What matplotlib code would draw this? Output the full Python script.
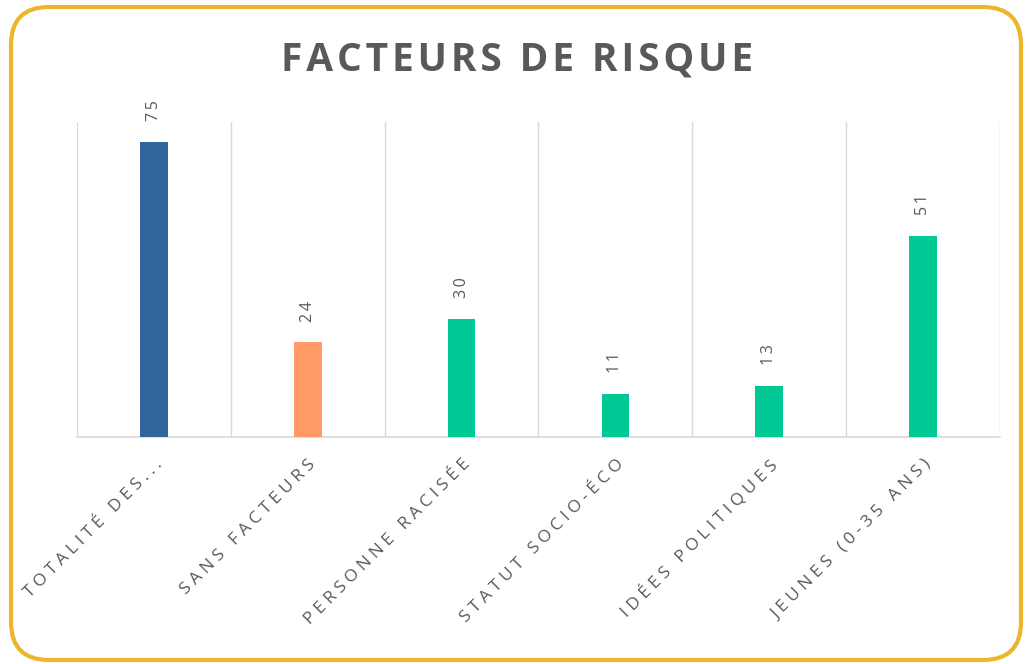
import matplotlib
matplotlib.use("Agg")
import matplotlib.pyplot as plt
from matplotlib.patches import FancyBboxPatch

# data
categories = ["TOTALITÉ DES...", "SANS FACTEURS", "PERSONNE RACISÉE",
              "STATUT SOCIO-ÉCO", "IDÉES POLITIQUES", "JEUNES (0-35 ANS)"]
values = [75, 24, 30, 11, 13, 51]
colors = ["#31669A", "#FF9966", "#00C996", "#00C996", "#00C996", "#00C996"]

TEXT = "#595959"
GRID = "#D9D9D9"
FONT = ["Open Sans", "DejaVu Sans"]


def spaced(s, sep="\u2005"):
    # Excel-style letter spacing
    return sep.join(s)


fig = plt.figure(figsize=(10.25, 6.64), dpi=100)
ax = fig.add_axes([0.0751, 0.3419, 0.9005, 0.4744])

x = range(len(categories))
ax.bar(x, values, width=0.18, color=colors, zorder=3)

for i, v in zip(x, values):
    ax.annotate(spaced(str(v), "\u2009"), (i, v), xytext=(0, 15),
                textcoords="offset points", rotation=90, ha="center",
                va="bottom", fontsize=11.5, color=TEXT, family=FONT)

for b in range(len(categories) + 1):
    ax.axvline(b - 0.5, color=GRID, lw=1, zorder=1)

ax.set_xlim(-0.5, len(categories) - 0.5)
ax.set_ylim(0, 80)
ax.set_yticks([])
ax.set_xticks(list(x))
ax.set_xticklabels([spaced(c) for c in categories], rotation=45, ha="right",
                   rotation_mode="anchor", fontsize=12.5, color=TEXT, family=FONT)
ax.tick_params(axis="x", length=0, pad=14)
for side in ["top", "left", "right"]:
    ax.spines[side].set_visible(False)
ax.spines["bottom"].set_color(GRID)
ax.spines["bottom"].set_linewidth(1.2)

fig.text(0.504, 0.91, spaced("FACTEURS DE RISQUE", "\u200a"), ha="center",
         va="center", fontsize=28, fontweight="bold", color=TEXT, family=FONT)

frame = FancyBboxPatch((0.11, 0.04), 10.10, 6.53,
                       boxstyle="round,pad=0,rounding_size=0.38",
                       transform=fig.dpi_scale_trans, fill=False,
                       edgecolor="#EDB62A", lw=3)
fig.patches.append(frame)

fig.savefig("out.png", dpi=100)
